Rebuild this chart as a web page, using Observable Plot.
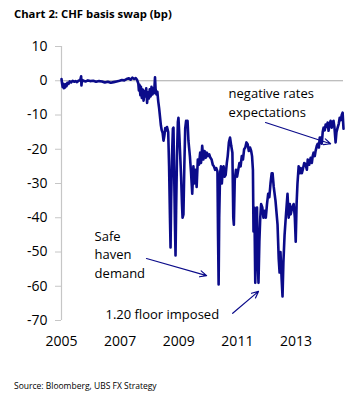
<!DOCTYPE html>
<html><head><meta charset="utf-8">
<script src="https://cdn.jsdelivr.net/npm/d3@7"></script>
<script src="https://cdn.jsdelivr.net/npm/@observablehq/plot@0.6"></script>
<style>
body{margin:0;background:#fff;font-family:"Open Sans",sans-serif;color:#000;}
#wrap{position:relative;width:357px;height:404px;overflow:hidden;background:#fff;}
#chart{position:absolute;left:0;top:0;}
#title{position:absolute;left:14px;top:7px;font-weight:bold;font-size:11.3px;line-height:14px;white-space:nowrap;}
#source{position:absolute;left:14px;top:380px;font-size:8.5px;line-height:12px;white-space:nowrap;}
</style></head>
<body>
<div id="wrap"><div id="chart"></div>
<div id="title">Chart 2: CHF basis swap (bp)</div>
<div id="source">Source: Bloomberg, UBS FX Strategy</div></div>
<script>
const xTicks = [2005, 2007, 2009, 2011, 2013];
const yTicks = [10, 0, -10, -20, -30, -40, -50, -60, -70];

const years = [
2005.00,2005.02,2005.04,2005.06,2005.08,2005.10,2005.12,2005.14,2005.17,2005.20,
2005.24,2005.28,2005.33,2005.38,2005.43,2005.48,2005.53,2005.58,2005.64,2005.67,
2005.68,2005.70,2005.75,2005.82,2005.90,2005.98,2006.08,2006.18,2006.28,2006.38,
2006.48,2006.58,2006.68,2006.78,2006.88,2006.98,2007.06,2007.14,2007.22,2007.30,
2007.36,2007.42,2007.48,2007.53,2007.58,2007.62,2007.64,2007.66,2007.69,2007.71,
2007.74,2007.77,2007.80,2007.83,2007.86,2007.89,2007.92,2007.95,2007.98,2008.01,
2008.04,2008.07,2008.10,2008.13,2008.16,2008.19,2008.21,2008.24,2008.27,2008.30,
2008.33,2008.36,2008.39,2008.42,2008.45,2008.48,2008.51,2008.54,2008.57,2008.60,
2008.64,2008.67,2008.70,2008.72,2008.74,2008.77,2008.80,2008.82,2008.84,2008.87,
2008.89,2008.91,2008.94,2008.97,2008.99,2009.02,2009.05,2009.08,2009.11,2009.13,
2009.16,2009.19,2009.22,2009.25,2009.28,2009.30,2009.33,2009.38,2009.42,2009.46,
2009.50,2009.53,2009.57,2009.61,2009.65,2009.69,2009.73,2009.76,2009.80,2009.84,
2009.88,2009.92,2009.96,2010.00,2010.04,2010.08,2010.12,2010.16,2010.20,2010.24,
2010.28,2010.32,2010.34,2010.36,2010.38,2010.41,2010.44,2010.47,2010.50,2010.53,
2010.56,2010.60,2010.64,2010.67,2010.71,2010.75,2010.79,2010.83,2010.86,2010.88,
2010.91,2010.95,2010.99,2011.03,2011.07,2011.11,2011.15,2011.19,2011.23,2011.27,
2011.31,2011.35,2011.39,2011.43,2011.47,2011.50,2011.53,2011.55,2011.58,2011.61,
2011.64,2011.67,2011.69,2011.72,2011.75,2011.78,2011.81,2011.85,2011.89,2011.93,
2011.97,2012.01,2012.05,2012.09,2012.13,2012.17,2012.20,2012.24,2012.30,2012.37,
2012.41,2012.44,2012.47,2012.51,2012.54,2012.57,2012.61,2012.65,2012.71,2012.75,
2012.79,2012.82,2012.87,2012.92,2012.96,2012.99,2013.02,2013.05,2013.09,2013.13,
2013.16,2013.20,2013.23,2013.28,2013.33,2013.37,2013.40,2013.45,2013.50,2013.54,
2013.57,2013.60,2013.64,2013.67,2013.71,2013.74,2013.78,2013.81,2013.84,2013.88,
2013.91,2013.94,2013.98,2014.01,2014.05,2014.08,2014.11,2014.15,2014.18,2014.22,
2014.25,2014.28,2014.31,2014.35,2014.38,2014.42,2014.46,2014.49,2014.53,2014.56,
2014.59,2014.62
];
const bp = [
0.5,-0.8,-1.8,-0.9,-2.2,-1.2,-2.0,-1.0,-1.6,-0.6,
-0.9,-0.2,-0.5,0.0,-0.3,-0.1,-0.4,0.0,0.2,1.3,
-1.4,0.3,0.0,-0.2,0.1,-0.1,0.0,-0.3,-0.1,-0.2,
-0.5,-0.3,-0.6,-0.4,-0.2,0.0,0.2,0.1,0.5,0.7,
0.3,0.9,0.5,0.8,0.2,-0.8,-2.8,-1.2,-4.2,-1.8,
-5.0,-2.6,-5.8,-3.0,-4.6,-2.2,-6.5,-3.4,-5.2,-2.5,
-4.6,-1.8,-4.0,-2.2,-3.6,1.0,-2.5,-4.0,-3.2,-6.0,
-8.0,-10.5,-13.0,-14.5,-15.2,-17.5,-16.0,-13.8,-14.5,-13.5,
-15.0,-25.0,-40.0,-48.7,-35.0,-22.0,-14.0,-13.7,-25.0,-42.0,
-51.0,-38.0,-22.0,-12.0,-10.8,-16.0,-22.0,-28.0,-36.0,-40.0,
-39.0,-25.0,-14.0,-11.7,-13.0,-11.7,-17.5,-22.0,-27.0,-33.0,
-25.0,-30.0,-26.0,-31.0,-23.0,-24.5,-21.0,-24.0,-19.0,-23.0,
-20.5,-22.5,-21.0,-22.0,-21.5,-22.5,-23.0,-24.5,-25.0,-26.0,
-25.5,-26.5,-45.0,-59.5,-40.0,-27.0,-25.0,-30.0,-26.0,-25.0,
-28.0,-27.5,-24.0,-22.0,-18.0,-16.6,-19.0,-21.0,-40.0,-42.0,
-29.0,-26.0,-28.0,-26.0,-24.0,-25.0,-22.0,-23.0,-20.0,-19.5,
-18.0,-18.5,-20.5,-19.5,-20.5,-22.0,-26.0,-44.0,-37.0,-59.0,
-40.0,-37.0,-52.0,-59.0,-47.0,-40.0,-36.0,-37.0,-40.0,-38.0,
-40.0,-36.0,-33.0,-34.0,-30.0,-27.0,-27.0,-31.0,-35.0,-42.0,
-52.0,-56.0,-50.0,-58.0,-63.0,-53.0,-45.0,-40.0,-33.0,-40.0,
-36.0,-39.0,-37.0,-36.0,-40.0,-47.0,-36.0,-30.0,-25.0,-27.0,
-25.5,-27.0,-26.0,-24.0,-24.5,-26.0,-23.0,-24.5,-22.5,-24.0,
-22.0,-21.0,-22.0,-20.4,-19.0,-18.4,-19.5,-16.6,-16.6,-18.4,
-15.0,-13.7,-14.5,-12.8,-13.5,-12.2,-14.6,-12.5,-11.7,-13.7,
-12.0,-11.7,-13.5,-18.0,-15.0,-13.7,-12.5,-10.8,-11.5,-10.0,
-9.3,-14.0
];

const noteText = ["Safe\nhaven\ndemand", "1.20 floor imposed", "negative rates\nexpectations"];
const noteX = [2006.13, 2006.50, 2010.70];
const noteY = [-50.4, -67.9, -6.1];

const arrowX1 = [2007.90, 2010.84, 2011.96];
const arrowY1 = [-51.9, -67.9, -12.2];
const arrowX2 = [2009.95, 2011.72, 2014.18];
const arrowY2 = [-56.9, -61.5, -18.4];

const series = years.map((y, i) => ({year: y, bp: bp[i]}));
const notes = noteText.map((t, i) => ({t, x: noteX[i], y: noteY[i]}));
const arrows = arrowX1.map((x, i) => ({x1: x, y1: arrowY1[i], x2: arrowX2[i], y2: arrowY2[i]}));

const navy = "#0b0b8a";

const chart = Plot.plot({
  width: 357, height: 360,
  marginLeft: 61, marginRight: 14, marginTop: 46, marginBottom: 40,
  style: {fontFamily: "'Open Sans', sans-serif", fontSize: "14px", color: "#000", background: "transparent", overflow: "visible"},
  x: {domain: [2005, 2014.62], label: null},
  y: {domain: [-70, 10], label: null},
  marks: [
    Plot.ruleX([2005], {y1: -70, y2: 10, stroke: "#c6c6c6", strokeWidth: 1.2}),
    Plot.ruleY([0], {stroke: "#a8a8a8", strokeWidth: 1}),
    Plot.axisY({ticks: yTicks, tickSize: 6, tickPadding: 8, stroke: "#c6c6c6", fill: "#000", fontSize: 14, tickFormat: d => String(d), label: null}),
    Plot.axisX({ticks: xTicks, tickSize: 0, tickPadding: 16, fill: "#000", fontSize: 14, tickFormat: d => String(d), label: null}),
    Plot.line(series, {x: "year", y: "bp", stroke: navy, strokeWidth: 2.6, strokeLinejoin: "round"}),
    Plot.arrow(arrows, {x1: "x1", y1: "y1", x2: "x2", y2: "y2", stroke: navy, strokeWidth: 1.2, headLength: 9, headAngle: 50}),
    Plot.text(notes, {x: "x", y: "y", text: "t", textAnchor: "start", lineAnchor: "middle", lineHeight: 1.42, fontSize: 13, fill: "#000"})
  ]
});
document.getElementById("chart").appendChild(chart);
</script>
</body></html>
